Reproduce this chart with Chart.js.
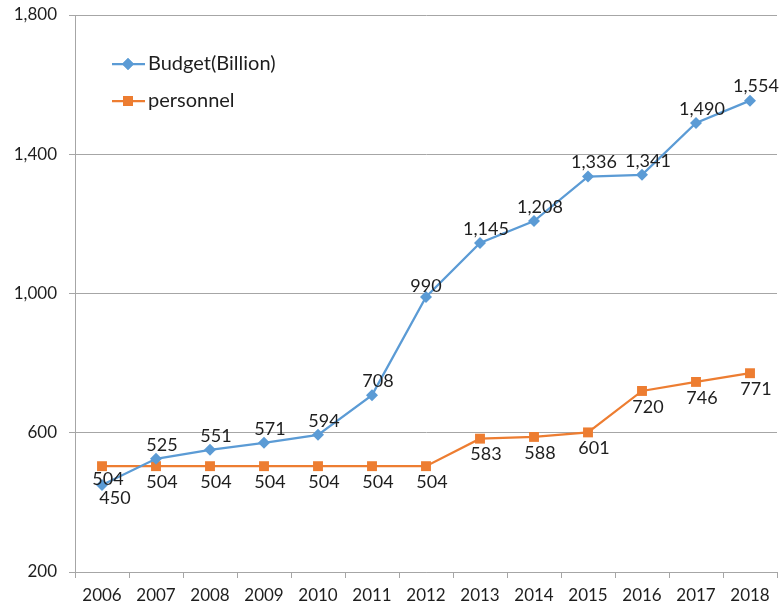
<!DOCTYPE html>
<html><head><meta charset="utf-8">
<script src="https://cdn.jsdelivr.net/npm/chart.js@4/dist/chart.umd.min.js"></script>
<style>html,body{margin:0;padding:0;background:#fff}#wrap{width:784px;height:607px;position:relative}</style>
</head><body><div id="wrap"><canvas id="c" width="784" height="607"></canvas></div>
<script>
const years = ['2006','2007','2008','2009','2010','2011','2012','2013','2014','2015','2016','2017','2018'];
const budget = [450,525,551,571,594,708,990,1145,1208,1336,1341,1490,1554];
const personnel = [504,504,504,504,504,504,504,583,588,601,720,746,771];
const seriesNames = ['Budget(Billion)','personnel'];
const yTicks = [200,600,1000,1400,1800];

const BLUE = '#5B9BD5', ORANGE = '#ED7D31', TXT = '#1e1e1e', GRID = '#A6A6A6';
const FONT = 'Lato, "Liberation Sans", sans-serif';
const fmt = v => v.toLocaleString('en-US');

const labelPlugin = {
  id: 'labels',
  afterDatasetsDraw(chart) {
    const ctx = chart.ctx;
    ctx.save();
    ctx.font = '18px ' + FONT;
    ctx.fillStyle = TXT;
    ctx.textAlign = 'center';
    ctx.textBaseline = 'middle';
    chart.data.datasets.forEach((ds, di) => {
      const meta = chart.getDatasetMeta(di);
      meta.data.forEach((pt, i) => {
        let dx = 6, dy = di === 0 ? -14 : 16;
        if (di === 0 && i === 0) { dx = 13; dy = 13; }
        if (di === 0 && i === 6) { dx = 0; dy = -11; }
        if (di === 1 && i === 0) { dx = 6; dy = 13; }
        ctx.fillText(fmt(ds.data[i]), pt.x + dx, pt.y + dy);
      });
    });
    ctx.restore();
  }
};

const legendPlugin = {
  id: 'customLegend',
  afterDraw(chart) {
    const ctx = chart.ctx;
    const items = [[seriesNames[0], BLUE, 'rectRot', 64], [seriesNames[1], ORANGE, 'rect', 101]];
    items.forEach(([name, col, style, y]) => {
      ctx.save();
      ctx.strokeStyle = col; ctx.lineWidth = 2.25;
      ctx.beginPath(); ctx.moveTo(112, y); ctx.lineTo(145, y); ctx.stroke();
      ctx.fillStyle = col;
      Chart.helpers.drawPoint(ctx, {pointStyle: style, radius: style === 'rect' ? 7 : 6, borderWidth: 0}, 128, y);
      ctx.fill();
      ctx.fillStyle = TXT;
      ctx.font = '20px ' + FONT;
      ctx.textAlign = 'left'; ctx.textBaseline = 'middle';
      ctx.fillText(name, 148, y);
      ctx.restore();
    });
  }
};

new Chart(document.getElementById('c'), {
  type: 'line',
  data: {
    labels: years,
    datasets: [
      { label: seriesNames[0], data: budget, borderColor: BLUE, backgroundColor: BLUE, borderWidth: 2.25,
        pointStyle: 'rectRot', pointRadius: 6, pointBorderWidth: 0, tension: 0 },
      { label: seriesNames[1], data: personnel, borderColor: ORANGE, backgroundColor: ORANGE, borderWidth: 2.25,
        pointStyle: 'rect', pointRadius: 7, pointBorderWidth: 0, tension: 0 }
    ]
  },
  options: {
    responsive: false, animation: false,
    layout: { padding: { top: 15, right: 6, left: 0, bottom: 0 } },
    plugins: { legend: { display: false }, tooltip: { enabled: false } },
    scales: {
      x: {
        offset: true,
        grid: { display: true, offset: true, drawOnChartArea: false, drawTicks: true, tickLength: 6, color: GRID },
        border: { color: GRID, width: 1 },
        ticks: { color: TXT, font: { family: FONT, size: 17 }, padding: 7, maxRotation: 0 },
        afterFit(s) { s.height = 35; }
      },
      y: {
        min: 200, max: 1800,
        afterBuildTicks(s) { s.ticks = yTicks.map(v => ({ value: v })); },
        grid: { color: GRID, tickLength: 6, drawTicks: true },
        border: { color: GRID, width: 1 },
        ticks: { color: TXT, font: { family: FONT, size: 17 }, padding: 12, callback: v => fmt(v) },
        afterFit(s) { s.width = 75; s.paddingTop = 0; }
      }
    }
  },
  plugins: [labelPlugin, legendPlugin]
});
</script></body></html>
